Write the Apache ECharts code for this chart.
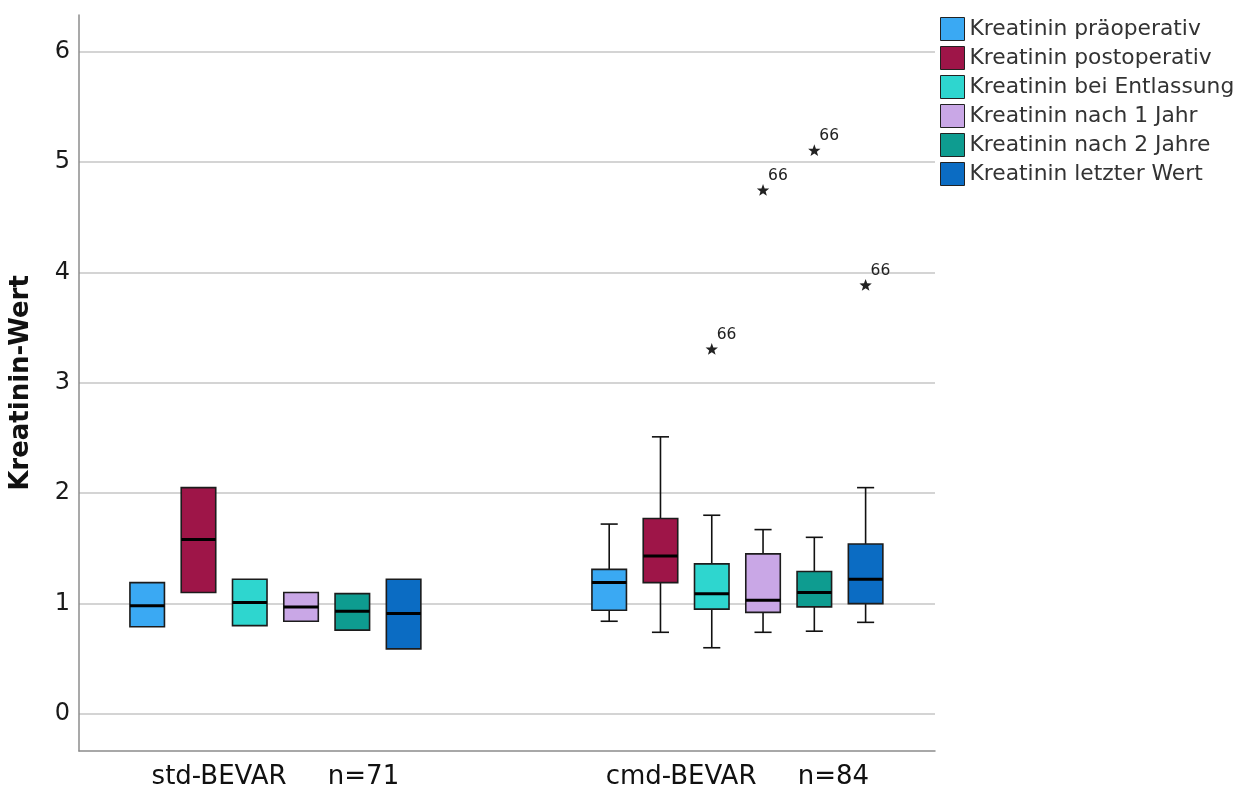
<!DOCTYPE html>
<html>
<head>
<meta charset="utf-8">
<script src="https://cdn.jsdelivr.net/npm/echarts@6/dist/echarts.min.js"></script>
<style>
html,body{margin:0;padding:0;background:#fff;}
#chart{width:1246px;height:792px;}
</style>
</head>
<body>
<div id="chart"></div>
<script>
// ---- data ----
const groups = ['std-BEVAR     n=71', 'cmd-BEVAR     n=84'];
const measures = ['Kreatinin präoperativ', 'Kreatinin postoperativ', 'Kreatinin bei Entlassung',
                  'Kreatinin nach 1 Jahr', 'Kreatinin nach 2 Jahre', 'Kreatinin letzter Wert'];
const colors = ['#3aa9f3', '#9e1548', '#2ed6cf', '#c9a7e6', '#0e9c90', '#0b6cc3'];
// [min, Q1, median, Q3, max] for std-BEVAR, cmd-BEVAR
const praeoperativ  = [[0.79, 0.79, 0.98, 1.19, 1.19], [0.84, 0.94, 1.19, 1.31, 1.72]];
const postoperativ  = [[1.10, 1.10, 1.58, 2.05, 2.05], [0.74, 1.19, 1.43, 1.77, 2.51]];
const entlassung    = [[0.80, 0.80, 1.01, 1.22, 1.22], [0.60, 0.95, 1.09, 1.36, 1.80]];
const nach1Jahr     = [[0.84, 0.84, 0.97, 1.10, 1.10], [0.74, 0.92, 1.03, 1.45, 1.67]];
const nach2Jahre    = [[0.76, 0.76, 0.93, 1.09, 1.09], [0.75, 0.97, 1.10, 1.29, 1.60]];
const letzterWert   = [[0.59, 0.59, 0.91, 1.22, 1.22], [0.83, 1.00, 1.22, 1.54, 2.05]];
const boxStats = [praeoperativ, postoperativ, entlassung, nach1Jahr, nach2Jahre, letzterWert];
// extreme values (group index, measure index, value, case label)
const outlierGroup   = [1, 1, 1, 1];
const outlierMeasure = [2, 3, 4, 5];
const outlierValue   = [3.30, 4.74, 5.10, 3.88];
const outlierCase    = ['66', '66', '66', '66'];
const yTicks = [0, 1, 2, 3, 4, 5, 6];

// ---- layout constants ----
const Y_MIN = -0.335, Y_MAX = 6.33;
const SPACING = 0.111;   // fraction of band between adjacent boxes
const BOX_W = 0.0747;    // fraction of band for box width
const CAP_W = 0.037;     // fraction of band for whisker caps

function xCenter(api, cat, m) {
  const band = api.size([1, 0])[0];
  return { x: api.coord([cat, 0])[0] + (m - 2.5) * band * SPACING, band: band };
}

function makeBoxRenderer(m) {
  return function (params, api) {
    const cat = api.value(0);
    const c = xCenter(api, cat, m);
    const xc = c.x, bw = c.band * BOX_W, cw = c.band * CAP_W;
    const yMin = api.coord([cat, api.value(1)])[1];
    const yQ1 = api.coord([cat, api.value(2)])[1];
    const yMed = api.coord([cat, api.value(3)])[1];
    const yQ3 = api.coord([cat, api.value(4)])[1];
    const yMax = api.coord([cat, api.value(5)])[1];
    const line = { stroke: '#111', lineWidth: 1.6 };
    const children = [];
    if (Math.abs(yMax - yQ3) > 0.5) {
      children.push({ type: 'line', shape: { x1: xc, y1: yMax, x2: xc, y2: yQ3 }, style: line });
      children.push({ type: 'line', shape: { x1: xc - cw / 2, y1: yMax, x2: xc + cw / 2, y2: yMax }, style: line });
    }
    if (Math.abs(yMin - yQ1) > 0.5) {
      children.push({ type: 'line', shape: { x1: xc, y1: yQ1, x2: xc, y2: yMin }, style: line });
      children.push({ type: 'line', shape: { x1: xc - cw / 2, y1: yMin, x2: xc + cw / 2, y2: yMin }, style: line });
    }
    children.push({ type: 'rect', shape: { x: xc - bw / 2, y: yQ3, width: bw, height: yQ1 - yQ3 },
      style: { fill: colors[m], stroke: '#1c1c1c', lineWidth: 1.6 } });
    children.push({ type: 'line', shape: { x1: xc - bw / 2, y1: yMed, x2: xc + bw / 2, y2: yMed },
      style: { stroke: '#000', lineWidth: 3 } });
    return { type: 'group', children: children };
  };
}

function renderOutlier(params, api) {
  const cat = api.value(0), m = api.value(1), v = api.value(2);
  const xc = xCenter(api, cat, m).x;
  const yc = api.coord([cat, v])[1];
  const pts = [];
  for (let k = 0; k < 10; k++) {
    const a = -Math.PI / 2 + k * Math.PI / 5;
    const r = k % 2 === 0 ? 6.5 : 2.7;
    pts.push([xc + r * Math.cos(a), yc + r * Math.sin(a)]);
  }
  return {
    type: 'group',
    children: [
      { type: 'polygon', shape: { points: pts }, style: { fill: '#222' } },
      { type: 'text', x: xc + 5, y: yc - 15,
        style: { text: outlierCase[params.dataIndex], font: '15.5px "DejaVu Sans"', fill: '#222',
                 align: 'left', verticalAlign: 'middle' } }
    ]
  };
}

const series = measures.map(function (name, m) {
  return {
    name: name, type: 'custom', xAxisIndex: 1, yAxisIndex: 1,
    itemStyle: { color: colors[m] },
    encode: { x: 0, y: [1, 2, 3, 4, 5] },
    renderItem: makeBoxRenderer(m),
    data: boxStats[m].map(function (s, g) { return [g].concat(s); })
  };
});
series.push({
  name: 'Ausreißer', type: 'custom', xAxisIndex: 1, yAxisIndex: 1,
  encode: { x: 0, y: 2 },
  renderItem: renderOutlier,
  data: outlierValue.map(function (v, i) { return [outlierGroup[i], outlierMeasure[i], v]; })
});

const chart = echarts.init(document.getElementById('chart'), null, { renderer: 'canvas' });
chart.setOption({
  animation: false,
  backgroundColor: '#fff',
  legend: {
    orient: 'vertical', left: 935, top: 12,
    itemWidth: 24, itemHeight: 23, itemGap: 5,
    icon: 'rect',
    textStyle: { fontFamily: 'DejaVu Sans', fontSize: 21.8, color: '#333' },
    data: measures.map(function (n, i) {
      return { name: n, itemStyle: { color: colors[i], borderColor: '#222', borderWidth: 1 } };
    })
  },
  grid: [
    { left: 79, right: 311, top: 15, bottom: 41 },
    { left: 44.4, right: 277.6, top: 15, bottom: 41 }
  ],
  xAxis: [
    { type: 'value', gridIndex: 0, min: 0, max: 1,
      axisLine: { show: true, onZero: false, lineStyle: { color: '#8c8c8c', width: 1.5 } },
      axisTick: { show: false }, axisLabel: { show: false }, splitLine: { show: false } },
    { type: 'category', gridIndex: 1, data: groups,
      axisLine: { show: false }, axisTick: { show: false },
      axisLabel: { fontFamily: 'DejaVu Sans', fontSize: 26, color: '#111', margin: 13 } }
  ],
  yAxis: [
    { type: 'value', gridIndex: 0, min: Y_MIN, max: Y_MAX, splitNumber: 6,
      name: 'Kreatinin-Wert', nameLocation: 'middle', nameRotate: 90, nameGap: 45,
      nameTextStyle: { fontFamily: 'DejaVu Sans', fontWeight: 'bold', fontSize: 26, color: '#111' },
      axisLine: { show: true, lineStyle: { color: '#8c8c8c', width: 1.5 } },
      axisTick: { show: false },
      axisLabel: {
        fontFamily: 'DejaVu Sans', fontSize: 24, color: '#1a1a1a', margin: 9,
        showMinLabel: false, showMaxLabel: false,
        formatter: function (v) {
          const r = Math.round(v);
          return (Math.abs(v - r) < 1e-6 && yTicks.indexOf(r) >= 0) ? String(r) : '';
        }
      },
      splitLine: { show: true, showMinLine: false, showMaxLine: false,
        lineStyle: { color: '#c6c6c6', width: 1.5 } } },
    { type: 'value', gridIndex: 1, min: Y_MIN, max: Y_MAX, show: false, splitLine: { show: false } }
  ],
  series: series
});
</script>
</body>
</html>
